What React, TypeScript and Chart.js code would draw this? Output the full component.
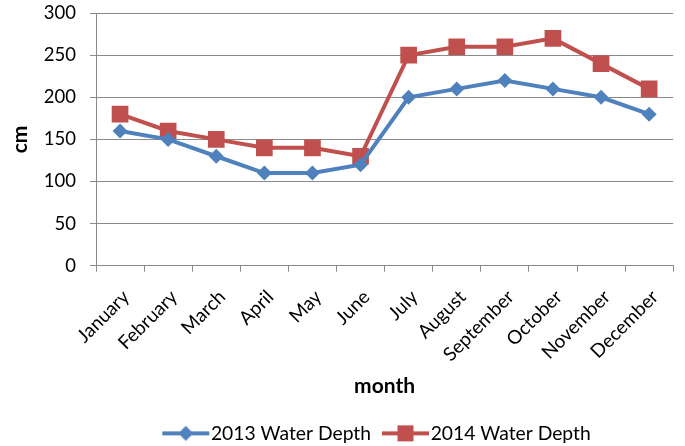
import React, { useEffect, useRef } from "react";
import { Chart, registerables } from "chart.js";

Chart.register(...registerables);

const months = ["January", "February", "March", "April", "May", "June", "July", "August", "September", "October", "November", "December"];
const depth2013 = [160, 150, 130, 110, 110, 120, 200, 210, 220, 210, 200, 180];
const depth2014 = [180, 160, 150, 140, 140, 130, 250, 260, 260, 270, 240, 210];
const seriesNames = ["2013 Water Depth", "2014 Water Depth"];
const yTicks = [0, 50, 100, 150, 200, 250, 300];

const BLUE = "#4F81BD";
const RED = "#C0504D";
const GRID = "#8a8a8a";
const FONT = "Lato";
const LEGEND_FS = 19.3;
const ICON_W = 62;
const LEGEND_SHIFT = 32;

function legendIcon(color: string, kind: "diamond" | "square"): HTMLCanvasElement {
  const c = document.createElement("canvas");
  c.width = ICON_W;
  c.height = 18;
  const ctx = c.getContext("2d")!;
  const x0 = ICON_W - 48;
  const cx = x0 + 23.5;
  ctx.strokeStyle = color;
  ctx.lineWidth = 4;
  ctx.beginPath();
  ctx.moveTo(x0, 9);
  ctx.lineTo(x0 + 47, 9);
  ctx.stroke();
  ctx.fillStyle = color;
  ctx.beginPath();
  if (kind === "diamond") {
    ctx.moveTo(cx, 1.5);
    ctx.lineTo(cx + 7.5, 9);
    ctx.lineTo(cx, 16.5);
    ctx.lineTo(cx - 7.5, 9);
    ctx.closePath();
  } else {
    ctx.rect(cx - 8, 1, 16, 16);
  }
  ctx.fill();
  return c;
}

const shiftLegend = {
  id: "shiftLegend",
  afterLayout(chart: any) {
    if (chart.legend) {
      chart.legend.left += LEGEND_SHIFT;
      chart.legend.right += LEGEND_SHIFT;
    }
  },
};

export default function App() {
  const ref = useRef<HTMLCanvasElement>(null);
  useEffect(() => {
    if (!ref.current) return;
    const icons = [legendIcon(BLUE, "diamond"), legendIcon(RED, "square")];
    const chart = new Chart(ref.current, {
      type: "line",
      data: {
        labels: months,
        datasets: [
          {
            label: seriesNames[0],
            data: depth2013,
            borderColor: BLUE,
            backgroundColor: BLUE,
            borderWidth: 4,
            pointStyle: "rectRot",
            pointRadius: 7.5,
            pointBorderWidth: 0,
            tension: 0,
          },
          {
            label: seriesNames[1],
            data: depth2014,
            borderColor: RED,
            backgroundColor: RED,
            borderWidth: 4,
            pointStyle: "rect",
            pointRadius: 11.8,
            pointBorderWidth: 0,
            tension: 0,
          },
        ],
      },
      plugins: [shiftLegend],
      options: {
        responsive: false,
        animation: false,
        devicePixelRatio: 1,
        layout: { padding: { left: 0, right: 1, top: 0, bottom: -7 } },
        plugins: {
          tooltip: { enabled: false },
          legend: {
            position: "bottom",
            labels: {
              usePointStyle: true,
              pointStyleWidth: 44,
              boxHeight: 18,
              padding: 6,
              color: "#000",
              font: { family: FONT, size: LEGEND_FS },
              generateLabels: (chart: any) =>
                chart.data.datasets.map((ds: any, i: number) => ({
                  text: ds.label,
                  pointStyle: icons[i],
                  fillStyle: ds.borderColor,
                  strokeStyle: ds.borderColor,
                  lineWidth: 0,
                  hidden: false,
                  datasetIndex: i,
                  fontColor: "#000",
                })),
            },
          },
        },
        scales: {
          x: {
            offset: true,
            grid: { offset: true, drawOnChartArea: false, drawTicks: true, tickLength: 6, color: GRID },
            border: { color: GRID, width: 1 },
            ticks: { minRotation: 45, maxRotation: 45, color: "#000", font: { family: FONT, size: 19 }, padding: 14, labelOffset: 6, autoSkip: false },
            title: { display: true, text: "month", color: "#000", font: { family: FONT, size: 21, weight: "bold" }, padding: { top: 6, bottom: 19 } },
            afterFit: (s: any) => { s.height = 152; },
          },
          y: {
            min: 0,
            max: 300,
            afterBuildTicks: (s: any) => { s.ticks = yTicks.map((v) => ({ value: v })); },
            grid: { color: GRID, tickLength: 18, drawTicks: true, tickBorderDash: [6, 12], tickBorderDashOffset: 6 },
            border: { color: GRID, width: 1 },
            ticks: { color: "#000", font: { family: FONT, size: 18.5 }, padding: 2 },
            title: { display: true, text: "cm", color: "#000", font: { family: FONT, size: 21, weight: "bold" }, padding: { top: 8, bottom: 0 } },
            afterFit: (s: any) => { s.width = 96; },
          },
        },
      },
    });
    return () => chart.destroy();
  }, []);
  return (
    <div style={{ position: "absolute", left: 0, top: 0, width: 685, height: 446, background: "#fff" }}>
      <canvas ref={ref} width={685} height={446} />
    </div>
  );
}
